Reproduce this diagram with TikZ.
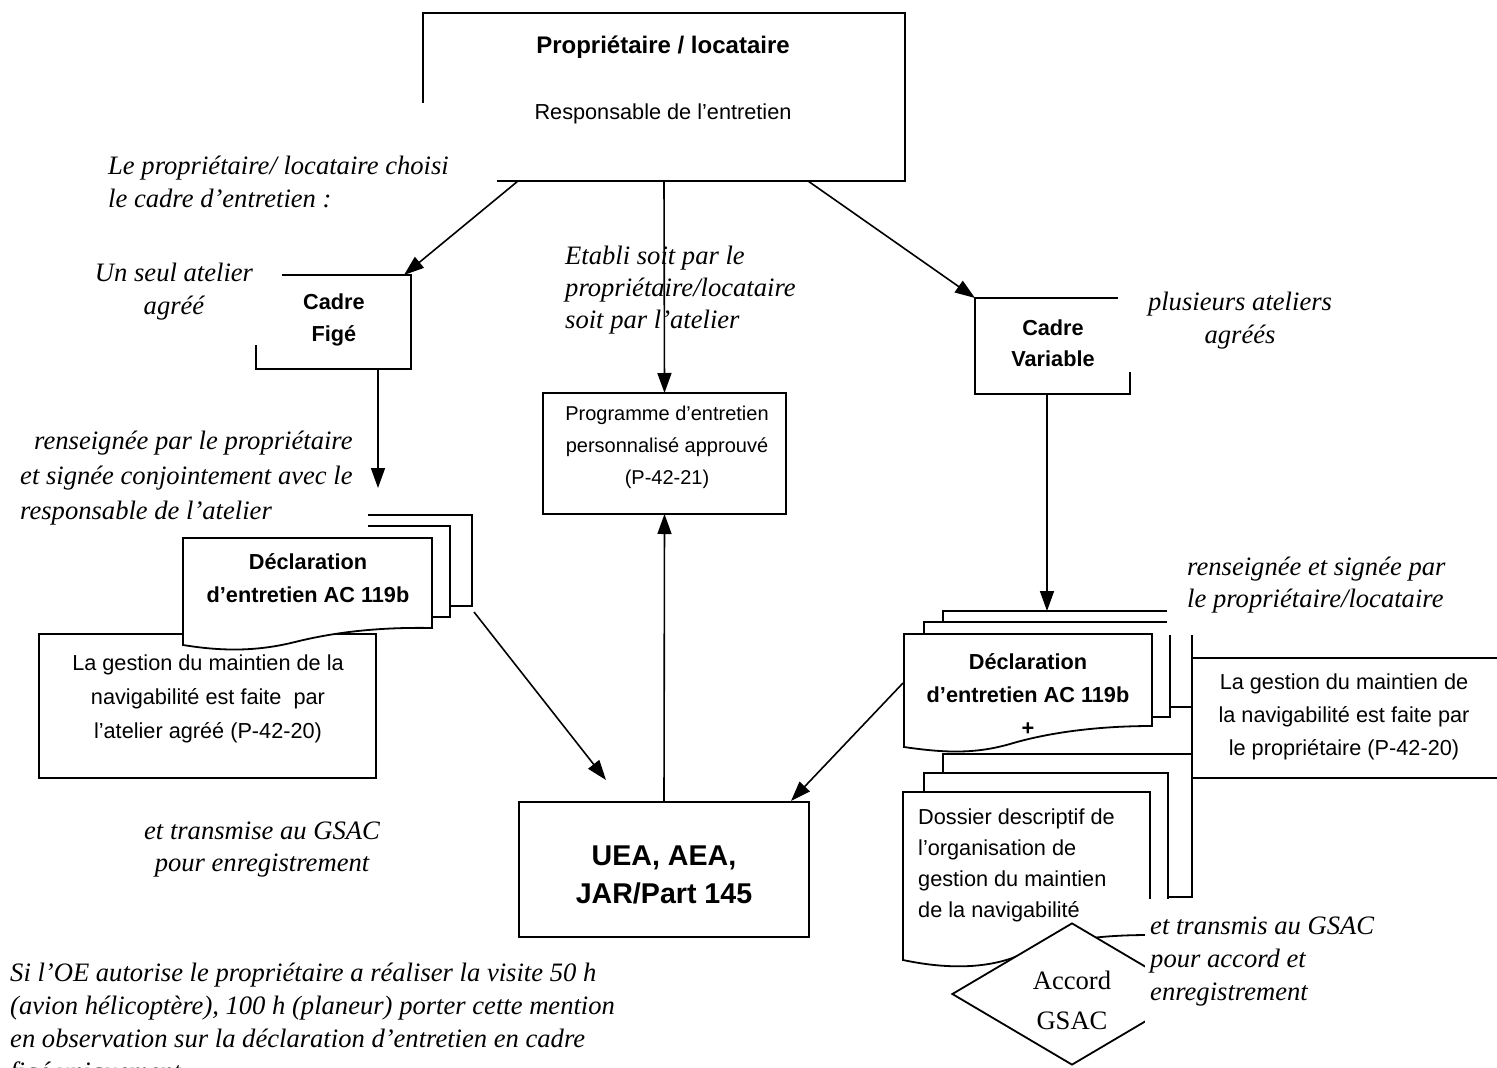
\documentclass[tikz,border=0pt]{standalone}
\usepackage{fontspec}
\setmainfont{Liberation Serif}
\setsansfont{Liberation Sans}
\usetikzlibrary{arrows.meta,shapes.geometric}
\begin{document}
\begin{tikzpicture}[x=1pt,y=-1pt,
  box/.style={draw,line width=1.8pt,fill=white,inner sep=0pt,outer sep=0pt,anchor=north west},
  ln/.style={line width=1.8pt},
  arr/.style={line width=1.6pt,-{Triangle[length=20pt,width=14pt]}},
  itx/.style={font=\fontsize{26.6}{33}\selectfont\itshape,inner sep=0pt},
  rmx/.style={font=\fontsize{26.6}{40}\selectfont,inner sep=0pt},
  sf/.style={font=\fontsize{21.7}{33}\selectfont\sffamily,inner sep=0pt},
  sfb/.style={font=\fontsize{21.7}{33}\selectfont\sffamily\bfseries,inner sep=0pt},
  cover/.style={fill=white}]
\useasboundingbox (0,0) rectangle (1497,1068);
\fill[white] (0,0) rectangle (1497,1068);

% top box
\node[box,minimum width=482pt,minimum height=168pt] (top) at (423,13) {};
\fill[cover] (95,103) rectangle (497,215);

% Cadre fige
\node[box,minimum width=155pt,minimum height=94pt] (fige) at (256,275) {};
\fill[cover] (80,245) rectangle (282,345);

% Cadre variable
\node[box,minimum width=155pt,minimum height=96pt] (cv) at (975,298) {};
\fill[cover] (1118,280) rectangle (1345,372);

% Programme
\node[box,minimum width=243pt,minimum height=121pt] (prog) at (543,393) {};

% UEA
\node[box,minimum width=290pt,minimum height=135pt] (uea) at (519,802) {};

% left gestion box
\node[box,minimum width=337pt,minimum height=144pt] (gesL) at (39,634) {};

% left declaration stack
\node[box,minimum width=272pt,minimum height=91pt] (decLb) at (200,515) {};
\node[box,minimum width=260pt,minimum height=91pt] (decLm) at (190,526) {};
\fill[cover] (5,420) rectangle (368,537);
\draw[ln,fill=white] (183,538) -- (432,538) -- (432,628)
  .. controls (380,627) and (335,632) .. (295,642)
  .. controls (255,652) and (220,651) .. (183,645) -- cycle;

% Dossier stack
\node[box,minimum width=249pt,minimum height=143pt] (dosb) at (943,754) {};
\node[box,minimum width=244pt,minimum height=142pt] (dosm) at (924,773) {};
\draw[ln,fill=white] (903,792) -- (1150,792) -- (1150,935)
  .. controls (1100,935) and (1060,940) .. (1020,955)
  .. controls (990,968) and (950,970) .. (903,960) -- cycle;

% right declaration stack
\node[box,minimum width=249pt,minimum height=96pt] (decRb) at (943,611) {};
\node[box,minimum width=246pt,minimum height=95pt] (decRm) at (924,622) {};
\fill[cover] (1167,540) rectangle (1480,635);
\draw[ln,fill=white] (904,634) -- (1152,634) -- (1152,726)
  .. controls (1100,726) and (1050,732) .. (1010,744)
  .. controls (975,754) and (945,753) .. (904,747) -- cycle;

% right gestion box
\node[box,minimum width=320pt,minimum height=120pt] (gesR) at (1192,658) {};

% diamond
\node[draw,line width=1.8pt,fill=white,diamond,inner sep=0pt,minimum width=240pt,minimum height=142pt] (acc) at (1072,994) {};
\fill[cover] (1145,899) rectangle (1420,1068);

% connector end points
\coordinate (decLin) at (378,488);
\coordinate (decLout) at (474,612);
\coordinate (ueaL) at (606,780);
\coordinate (decRout) at (903,683);
\coordinate (ueaR) at (791,801);

% arrows
\draw[arr] ([xshift=95pt]top.south west) -- ([xshift=-7pt]fige.north east);
\draw[arr] (top.south) -- (prog.north);
\draw[arr] ([xshift=-97pt]top.south east) -- (cv.north west);
\draw[arr] ([xshift=122pt]fige.south west) -- (decLin);
\draw[arr] ([xshift=72pt]cv.south west) -- ([xshift=104pt]decRb.north west);
\draw[arr] (uea.north) -- (prog.south);
\draw[arr] (decLout) -- (ueaL);
\draw[arr] (decRout) -- (ueaR);

% texts (anchor base = baseline of the last line)
\node[sfb,anchor=base,font=\fontsize{24}{33}\selectfont\sffamily\bfseries] (t1) at (663,53) {Propriétaire / locataire};
\node[sf,anchor=base] (t2) at (663,119) {Responsable de l’entretien};
\node[itx,anchor=base west,align=left] (t3) at (108,207) {Le propriétaire/ locataire choisi\\le cadre d’entretien :};
\node[itx,anchor=base,align=center] (t4) at (174,314) {Un seul atelier\\agréé};
\node[sfb,anchor=base,align=center,font=\fontsize{21.7}{32}\selectfont\sffamily\bfseries] (t5) at (334,341) {Cadre\\Figé};
\node[itx,anchor=base west,align=left,font=\fontsize{26.6}{32}\selectfont\itshape] (t6) at (565,328) {Etabli soit par le\\propriétaire/locataire\\soit par l’atelier};
\node[itx,anchor=base,align=center] (t7) at (1240,343) {plusieurs ateliers\\agréés};
\node[sfb,anchor=base,align=center,font=\fontsize{21.7}{31}\selectfont\sffamily\bfseries] (t8) at (1053,366) {Cadre\\Variable};
\node[sf,anchor=base,align=center,font=\fontsize{20}{32}\selectfont\sffamily] (t9) at (667,484) {Programme d’entretien\\personnalisé approuvé\\(P-42-21)};
\node[itx,anchor=base west,align=left,font=\fontsize{26.6}{35}\selectfont\itshape] (t10) at (20,519) {\hspace*{14pt}renseignée par le propriétaire\\et signée conjointement avec le\\responsable de l’atelier};
\node[sfb,anchor=base,align=center] (t11) at (308,602) {Déclaration\\d’entretien AC 119b};
\node[sf,anchor=base,align=center,font=\fontsize{21.7}{34}\selectfont\sffamily] (t12) at (208,738) {La gestion du maintien de la\\navigabilité est faite~ par\\l’atelier agréé (P-42-20)};
\node[itx,anchor=base west,align=left,font=\fontsize{26.6}{32}\selectfont\itshape] (t13) at (1187,607) {renseignée et signée par\\le propriétaire/locataire};
\node[sfb,anchor=base,align=center] (t14) at (1028,735) {Déclaration\\d’entretien AC 119b\\+};
\node[sf,anchor=base,align=center,font=\fontsize{21.7}{33}\selectfont\sffamily] (t15) at (1344,755) {La gestion du maintien de\\la navigabilité est faite par\\le propriétaire (P-42-20)};
\node[sf,anchor=base west,align=left,font=\fontsize{21.7}{31}\selectfont\sffamily] (t16) at (918,917) {Dossier descriptif de\\l’organisation de\\gestion du maintien\\de la navigabilité};
\node[itx,anchor=base,align=center,font=\fontsize{26.6}{32}\selectfont\itshape] (t17) at (262,871) {et transmise au GSAC\\pour enregistrement};
\node[sfb,anchor=base,align=center,font=\fontsize{28.6}{38}\selectfont\sffamily\bfseries] (t18) at (664,903) {UEA, AEA,\\JAR/Part 145};
\node[itx,anchor=base west,align=left] (t19) at (1150,1000) {et transmis au GSAC\\pour accord et\\enregistrement};
\node[rmx,anchor=base,align=center] (t20) at (1072,1029) {Accord\\GSAC};
\node[itx,anchor=base west,align=left] (t21) at (10,1080) {Si l’OE autorise le propriétaire a réaliser la visite 50 h\\(avion hélicoptère), 100 h (planeur) porter cette mention\\en observation sur la déclaration d’entretien en cadre\\figé uniquement};
\end{tikzpicture}
\end{document}
